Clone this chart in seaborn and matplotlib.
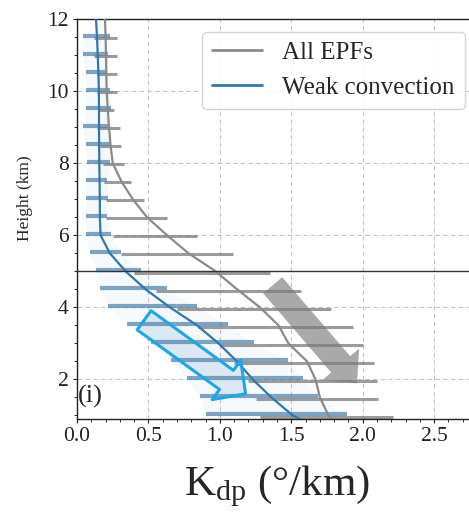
import numpy as np
import pandas as pd
import matplotlib
matplotlib.use("Agg")
import matplotlib.pyplot as plt
from matplotlib.ticker import MultipleLocator, FormatStrFormatter
import seaborn as sns

# ---------------- data ----------------
line_heights = [0.9, 1.0, 1.5, 2.0, 2.5, 3.0, 3.5, 4.0, 4.5, 5.0, 5.5, 6.0,
                6.5, 7.0, 7.5, 8.0, 8.5, 9.0, 9.5, 10.0, 10.5, 11.0, 11.5, 12.0]
all_epf_mean = [1.78, 1.76, 1.70, 1.67, 1.61, 1.48, 1.41, 1.28, 1.12, 0.97, 0.78, 0.63,
                0.49, 0.39, 0.31, 0.25, 0.235, 0.224, 0.215, 0.208, 0.205, 0.203, 0.20, 0.196]
weak_mean = [1.56, 1.51, 1.36, 1.23, 1.12, 0.99, 0.84, 0.65, 0.48, 0.34, 0.23, 0.165,
             0.16, 0.16, 0.158, 0.156, 0.155, 0.154, 0.154, 0.153, 0.15, 0.145, 0.14, 0.133]

bar_heights = [1.0, 1.5, 2.0, 2.5, 3.0, 3.5, 4.0, 4.5, 5.0, 5.5, 6.0,
               6.5, 7.0, 7.5, 8.0, 8.5, 9.0, 9.5, 10.0, 10.5, 11.0, 11.5]
weak_lo = [0.90, 0.86, 0.77, 0.66, 0.52, 0.35, 0.22, 0.16, 0.13, 0.09, 0.06,
           0.06, 0.06, 0.06, 0.07, 0.06, 0.04, 0.06, 0.06, 0.06, 0.04, 0.04]
weak_hi = [1.89, 1.69, 1.58, 1.48, 1.24, 1.06, 0.84, 0.63, 0.45, 0.31, 0.24,
           0.21, 0.22, 0.21, 0.23, 0.23, 0.22, 0.24, 0.23, 0.21, 0.22, 0.23]
all_lo = [1.28, 1.25, 1.20, 1.10, 1.00, 0.85, 0.70, 0.55, 0.40, 0.31, 0.25,
          0.20, 0.20, 0.19, 0.18, 0.16, 0.14, 0.15, 0.14, 0.14, 0.12, 0.12]
all_hi = [2.21, 2.11, 2.10, 2.08, 2.00, 1.93, 1.78, 1.57, 1.35, 1.09, 0.84,
          0.63, 0.47, 0.38, 0.33, 0.31, 0.30, 0.26, 0.28, 0.28, 0.28, 0.28]

series_names = ["All EPFs", "Weak convection"]
x_ticks = [0.0, 0.5, 1.0, 1.5, 2.0, 2.5]
y_ticks = [2, 4, 6, 8, 10, 12]
ref_height = 5.0

# ---------------- style ----------------
sns.set_style("ticks")
plt.rcParams["font.family"] = ["Liberation Serif", "DejaVu Serif"]
plt.rcParams["mathtext.fontset"] = "custom"
plt.rcParams["mathtext.rm"] = "Liberation Serif"
plt.rcParams["mathtext.it"] = "Liberation Serif:italic"

grey_line = "#8a8a8a"
blue_line = "#2f78ad"

fig = plt.figure(figsize=(4.69, 5.17), dpi=100)
ax = fig.add_axes([77 / 469, (517 - 419) / 517, (477 - 77) / 469, 400 / 517])

# shaded band (weak convection spread)
ax.fill_betweenx(bar_heights, weak_lo, weak_hi, color="#b9d5ec", alpha=0.12, lw=0, zorder=1)

# annotation arrows (fills below bars)
ax.annotate("", xy=(1.96, 1.89), xytext=(1.37, 4.61),
            arrowprops=dict(arrowstyle="simple,head_length=18,head_width=35,tail_width=18",
                            mutation_scale=1, fc="#a9a9a9", ec="none", shrinkA=0, shrinkB=0),
            zorder=1.5)
ax.annotate("", xy=(1.18, 1.60), xytext=(0.47, 3.64),
            arrowprops=dict(arrowstyle="simple,head_length=17,head_width=35,tail_width=17",
                            mutation_scale=1, fc="#dbe7f3", ec="none", shrinkA=0, shrinkB=0),
            zorder=1.5)

# spread bars
bh = np.array(bar_heights)
ax.hlines(bh + 0.035, weak_lo, weak_hi, color="#4a7fa8", lw=3.0, alpha=0.7, zorder=2)
ax.hlines(bh - 0.035, all_lo, all_hi, color="#7a7a7a", lw=2.2, alpha=0.75, zorder=2.1)

# mean profiles
df_all = pd.DataFrame({"kdp": all_epf_mean, "height": line_heights})
df_weak = pd.DataFrame({"kdp": weak_mean, "height": line_heights})
sns.lineplot(data=df_all, x="kdp", y="height", orient="y", sort=True, estimator=None,
             color=grey_line, lw=1.6, label=series_names[0], ax=ax, zorder=3)
sns.lineplot(data=df_weak, x="kdp", y="height", orient="y", sort=True, estimator=None,
             color=blue_line, lw=1.6, label=series_names[1], ax=ax, zorder=3)

ax.axhline(ref_height, color="#333333", lw=1.0, zorder=3)

# cyan arrow outline on top
ax.annotate("", xy=(1.18, 1.60), xytext=(0.47, 3.64),
            arrowprops=dict(arrowstyle="simple,head_length=17,head_width=35,tail_width=17",
                            mutation_scale=1, fc="none", ec="#1ea7e4", lw=2.2,
                            shrinkA=0, shrinkB=0),
            zorder=4)

# axes
ax.set_xlim(0, 2.8)
ax.set_ylim(0.9, 12)
ax.set_xticks(x_ticks)
ax.set_yticks(y_ticks)
ax.xaxis.set_major_formatter(FormatStrFormatter("%.1f"))
ax.xaxis.set_minor_locator(MultipleLocator(0.1))
ax.yaxis.set_minor_locator(MultipleLocator(0.5))
ax.tick_params(which="major", direction="out", length=3, width=0.8, labelsize=15.5,
               colors="#222222", pad=3)
ax.tick_params(which="minor", direction="out", length=2.5, width=0.7)
ax.grid(True, which="major", ls=(0, (4, 3)), color="#c4c4c4", lw=0.8)
ax.set_axisbelow(True)
for s in ["left", "bottom", "top"]:
    ax.spines[s].set_color("#222222")
    ax.spines[s].set_linewidth(1.0)
ax.spines["right"].set_visible(False)

ax.set_ylabel("Height (km)", fontsize=12.5)
ax.yaxis.set_label_coords(-0.11, 0.5525)
ax.set_xlabel(r"K$_{\mathrm{dp}}$ (°/km)", fontsize=31)
ax.xaxis.label.set_va("baseline")
ax.xaxis.set_label_coords(0.5, -0.19)

ax.text(0.003, 0.057, "(i)", transform=ax.transAxes, fontsize=19, va="center", ha="left")

leg = ax.legend(loc="upper right", fontsize=18, frameon=True, fancybox=True,
                framealpha=0.9, edgecolor="#d0d0d0", handlelength=2.0, borderaxespad=0.5)
for h in leg.get_lines():
    h.set_linewidth(2.0)

fig.savefig("out.png", dpi=100)
